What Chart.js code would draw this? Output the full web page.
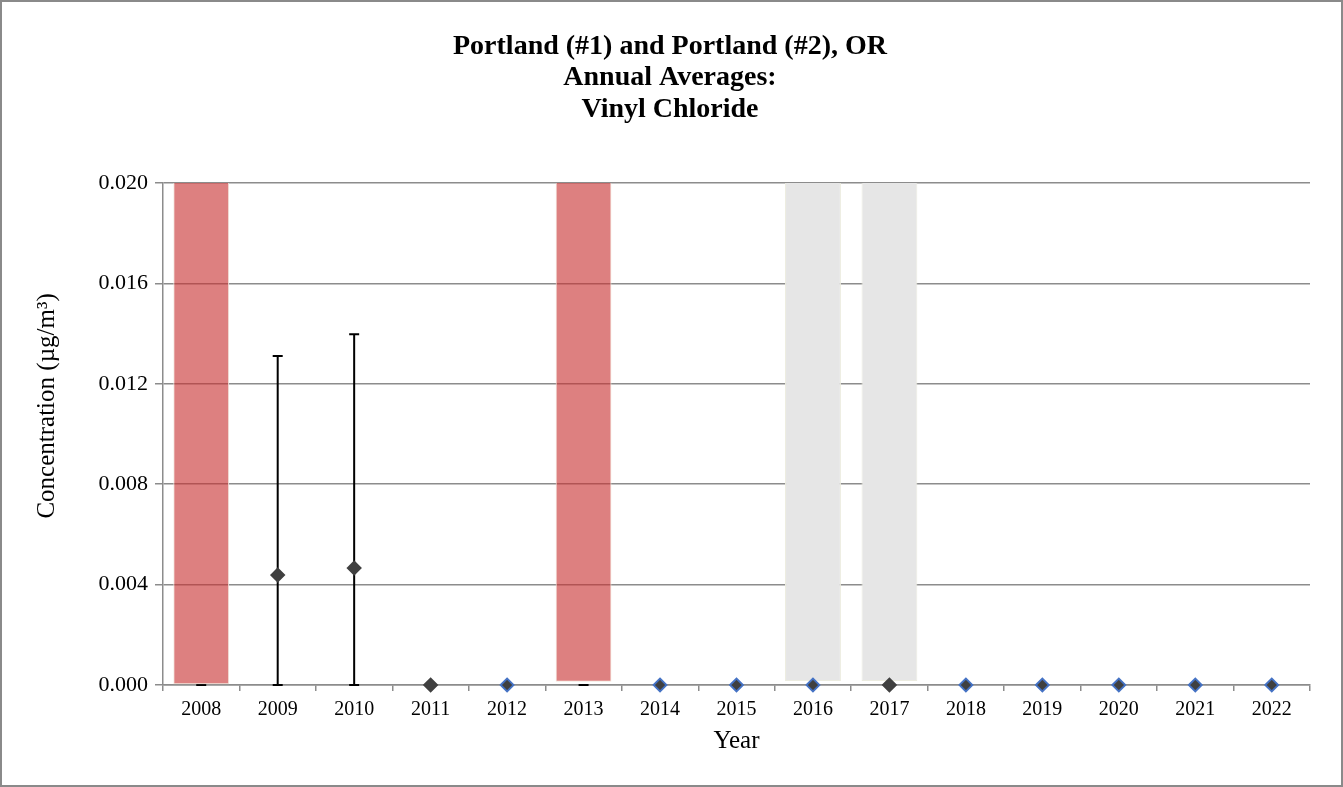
<!DOCTYPE html>
<html>
<head>
<meta charset="utf-8">
<script src="https://cdn.jsdelivr.net/npm/chart.js@4/dist/chart.umd.min.js"></script>
<style>
  html, body { margin: 0; padding: 0; background: #fff; }
  #wrap { width: 1343px; height: 787px; position: relative; }
</style>
</head>
<body>
<div id="wrap"><canvas id="chart"></canvas></div>
<script>
// Dati
const years = ['2008','2009','2010','2011','2012','2013','2014','2015','2016','2017','2018','2019','2020','2021','2022'];
// Medie annuali (null = nessun punto)
const means = [null, 0.00438, 0.00466, 0, 0, null, 0, 0, 0, 0, 0, 0, 0, 0, 0];
// Barre di errore (limite inferiore / superiore)
const errLow = [0, 0, 0, null, null, 0, null, null, null, null, null, null, null, null, null];
const errHigh = [0, 0.01311, 0.01398, null, null, 0, null, null, null, null, null, null, null, null, null];
// Bande ombreggiate: inizio e fine
const bandLow = [0, null, null, null, null, 0.00013, null, null, 0.00016, 0.00016, null, null, null, null, null];
const bandHigh = [0.02008, null, null, null, null, 0.02024, null, null, 0.02008, 0.02008, null, null, null, null, null];
// Tipo di banda: 'r' rossa, 'g' grigia
const bandType = ['r', '', '', '', '', 'r', '', '', 'g', 'g', '', '', '', '', ''];
// Marcatori con bordo blu
const blueEdge = [false, false, false, false, true, false, true, true, true, false, true, true, true, true, true];

const serif = '"Liberation Serif", "Times New Roman", serif';

// Bordo esterno e sfondo bianco
const framePlugin = {
    id: 'frame',
    beforeDraw(chart) {
        const ctx = chart.ctx;
        ctx.save();
        ctx.fillStyle = '#fff';
        ctx.fillRect(0, 0, chart.width, chart.height);
        ctx.strokeStyle = '#8a8a8a';
        ctx.lineWidth = 2;
        ctx.strokeRect(1, 1, chart.width - 2, chart.height - 2);
        ctx.restore();
    }
};

// Barre di errore disegnate sotto le bande
const errorBarPlugin = {
    id: 'errorBars',
    beforeDatasetsDraw(chart) {
        const ctx = chart.ctx;
        const x = chart.scales.x, y = chart.scales.y;
        ctx.save();
        ctx.strokeStyle = '#000';
        ctx.lineWidth = 2;
        for (let i = 0; i < years.length; i++) {
            if (errHigh[i] === null) continue;
            const px = x.getPixelForValue(i);
            const y1 = y.getPixelForValue(errLow[i]);
            const y2 = y.getPixelForValue(errHigh[i]);
            ctx.beginPath();
            ctx.moveTo(px, y1); ctx.lineTo(px, y2);
            ctx.moveTo(px - 5, y1); ctx.lineTo(px + 5, y1);
            ctx.moveTo(px - 5, y2); ctx.lineTo(px + 5, y2);
            ctx.stroke();
        }
        ctx.restore();
    }
};

const bands = years.map((_, i) => bandLow[i] === null ? null : [bandLow[i], bandHigh[i]]);

new Chart(document.getElementById('chart'), {
    type: 'bar',
    data: {
        labels: years,
        datasets: [
            {
                type: 'line',
                label: 'Media',
                data: means,
                showLine: false,
                clip: false,
                pointStyle: 'rectRot',
                pointRadius: 6.5,
                pointBorderWidth: 1.8,
                pointBackgroundColor: '#404040',
                pointBorderColor: blueEdge.map(b => b ? '#4472C4' : '#404040'),
                order: 0
            },
            {
                label: 'Bande',
                data: bands,
                backgroundColor: bandType.map(t => t === 'r' ? 'rgba(200,50,50,0.62)' : '#e6e6e6'),
                borderColor: bandType.map(t => t === 'r' ? '#f3e6dc' : '#ecece0'),
                borderWidth: 1,
                borderSkipped: false,
                barPercentage: 0.73,
                categoryPercentage: 1,
                order: 1
            }
        ]
    },
    options: {
        responsive: true,
        maintainAspectRatio: false,
        animation: false,
        layout: { padding: { left: 30, right: 33, top: 0, bottom: 33 } },
        plugins: {
            legend: { display: false },
            tooltip: { enabled: false },
            title: {
                display: true,
                text: ['Portland (#1) and Portland (#2), OR', 'Annual Averages:', 'Vinyl Chloride'],
                color: '#000',
                font: { family: serif, size: 28, weight: 'bold', lineHeight: 1.12 },
                padding: { top: 31, bottom: 58 }
            }
        },
        scales: {
            x: {
                grid: {
                    offset: true,
                    drawOnChartArea: false,
                    drawTicks: true,
                    tickLength: 6,
                    color: '#8c8c8c',
                    lineWidth: 1.5
                },
                border: { color: '#8c8c8c', width: 1.5 },
                ticks: { color: '#000', font: { family: serif, size: 20 }, padding: 7, maxRotation: 0 },
                title: {
                    display: true,
                    text: 'Year',
                    color: '#000',
                    font: { family: serif, size: 25, lineHeight: 1.0 },
                    padding: { top: 0, bottom: 0 }
                }
            },
            y: {
                min: 0,
                max: 0.02,
                afterFit(scale) { scale.width = 133; },
                grid: { color: '#8c8c8c', lineWidth: 1.5, tickLength: 8 },
                border: { color: '#8c8c8c', width: 1.5 },
                ticks: {
                    stepSize: 0.004,
                    color: '#000',
                    padding: 7,
                    font: { family: serif, size: 22 },
                    callback: v => v.toFixed(3)
                },
                title: {
                    display: true,
                    // spazi iniziali: il titolo nel riferimento sta un po' più in alto del centro
                    text: '         Concentration (µg/m³)',
                    color: '#000',
                    font: { family: serif, size: 25, lineHeight: 1.2 },
                    padding: { top: 2, bottom: 0 }
                }
            }
        }
    },
    plugins: [framePlugin, errorBarPlugin]
});
</script>
</body>
</html>
